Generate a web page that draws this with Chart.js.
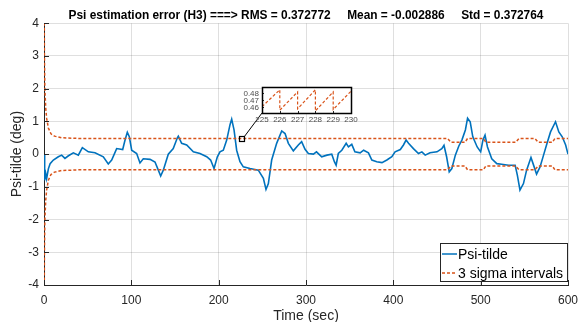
<!DOCTYPE html>
<html>
<head>
<meta charset="utf-8">
<script src="https://cdn.jsdelivr.net/npm/chart.js@4.4.0/dist/chart.umd.min.js"></script>
<style>
  html, body { margin: 0; padding: 0; background: #fff; }
  #wrap { position: relative; width: 579px; height: 322px; }
  #main { position: absolute; left: 0; top: 0; }
  #inset { position: absolute; left: 228px; top: 82px; }
</style>
</head>
<body>
<div id="wrap">
  <canvas id="main" width="579" height="322"></canvas>
  <canvas id="inset" width="130" height="48"></canvas>
</div>
<script>
// data
const timeSec = [0, 0.5, 1, 2, 3, 5, 7, 10.7, 16.4, 20.2,
  24, 28, 33.6, 39.3, 43.9, 50.8, 58.4, 67.9, 73.6, 77.5,
  83.2, 90.1, 92.8, 95.4, 97.7, 100.4, 106.1, 109.9, 113.7, 121.4,
  127.1, 130.9, 133.6, 136.6, 142.3, 148, 152.7, 153.8, 157.6, 163.4,
  171, 178.6, 186.3, 190.8, 194.7, 198.5, 201.5, 205.3, 209.2, 213,
  214.9, 217.6, 220.6, 224.4, 228.2, 235.9, 245.4, 251.2, 254.2, 256.9,
  260.7, 266.4, 272.2, 276, 279.8, 285.5, 291.2, 295, 298.9, 302.7,
  308.5, 312, 318, 324, 329.5, 332.5, 334.5, 337, 341, 346,
  348.6, 352.4, 356, 362, 366, 371.5, 375.4, 381, 387, 392.6,
  398.3, 402, 408, 411.6, 414.6, 417.4, 423, 428.8, 432.7, 436.5,
  442, 450, 455.5, 458, 461, 464, 467, 471, 475, 478.5,
  482.5, 485, 488, 491, 496, 500, 502.6, 505, 507.8, 512.7,
  518.5, 524, 532, 539.5, 542, 545, 549, 552.6, 557.6, 560,
  564, 568, 572, 576, 580, 585.7, 589.5, 593.4, 597.3, 600];
const psiTilde = [0, -0.5, -0.8, -0.6, -0.75, -0.45, -0.29, -0.18, -0.08, -0.03,
  -0.13, -0.05, 0.04, -0.03, 0.2, 0.07, 0.04, -0.08, -0.3, -0.18,
  0.17, 0.14, 0.43, 0.67, 0.53, 0.12, 0.02, -0.27, -0.14, -0.16,
  -0.24, -0.49, -0.67, -0.49, 0, 0.17, 0.5, 0.55, 0.33, 0.28,
  0.07, 0.02, -0.08, -0.18, -0.44, -0.08, 0.07, 0.12, 0.43, 0.9,
  1.07, 0.74, 0.12, -0.23, -0.39, -0.44, -0.49, -0.74, -1.08, -0.9,
  -0.18, 0.33, 0.71, 0.63, 0.33, 0.1, 0.28, 0.38, 0.15, 0.02,
  0, 0.07, -0.08, -0.03, 0, -0.23, -0.34, 0.02, 0.12, 0.33,
  0.22, 0.3, 0.07, 0.04, 0.12, 0.04, -0.18, -0.23, -0.26, -0.18,
  -0.08, 0.07, 0.14, 0.28, 0.43, 0.33, 0.17, 0.02, 0.07, -0.03,
  0.04, 0.07, 0.17, 0.27, -0.08, -0.54, -0.44, -0.03, 0.25, 0.43,
  0.74, 1.1, 0.99, 0.53, 0.22, 0.07, 0.43, 0.58, 0.22, -0.14,
  -0.29, -0.31, -0.34, -0.34, -0.64, -1.1, -0.9, -0.49, -0.1, -0.29,
  -0.61, -0.39, -0.03, 0.33, 0.68, 0.99, 0.68, 0.53, 0.28, 0];

// 3 sigma bound (plotted as +/-)
const sigmaTime = [0, 0.5, 1, 2, 3, 5, 8, 12, 20, 40,
  462, 466, 482, 485, 503, 506, 540, 544, 562, 566,
  582, 585, 600];
const sigma3 = [6, 3, 2, 1.4, 1.1, 0.8, 0.62, 0.55, 0.5, 0.48,
  0.48, 0.36, 0.36, 0.48, 0.48, 0.36, 0.36, 0.48, 0.48, 0.36,
  0.36, 0.48, 0.48];

// zoomed inset (225..230 s)
const insetTime = [225, 226, 226, 227, 227, 228, 228, 229, 229, 230];
const insetSigma = [0.461, 0.485, 0.456, 0.482, 0.458, 0.485, 0.455, 0.482, 0.457, 0.483];
const insetXTicks = [225, 226, 227, 228, 229, 230];
const insetYTicks = [0.46, 0.47, 0.48];
const zoomSpot = { t: 227, v: 0.47 };

const xTicks = [0, 100, 200, 300, 400, 500, 600];
const yTicks = [-4, -3, -2, -1, 0, 1, 2, 3, 4];

const blue = '#0072BD';
const orange = '#D95319';
const axisCol = '#262626';
const gridCol = 'rgba(38,38,38,0.15)';
const fontFam = '"Liberation Sans", Arial, sans-serif';

Chart.defaults.font.family = fontFam;
Chart.defaults.color = axisCol;

const pts = (xs, ys) => xs.map((x, i) => ({ x: x, y: ys[i] }));

// MATLAB style ticks pointing into the axes
function drawInTicks(chart, len) {
  const ctx = chart.ctx, a = chart.chartArea;
  const sx = chart.scales.x, sy = chart.scales.y;
  ctx.save();
  ctx.strokeStyle = axisCol;
  ctx.lineWidth = 1;
  ctx.beginPath();
  sx.ticks.forEach(t => {
    const px = Math.round(sx.getPixelForValue(t.value)) + 0.5;
    ctx.moveTo(px, a.bottom); ctx.lineTo(px, a.bottom - len);
  });
  sy.ticks.forEach(t => {
    const py = Math.round(sy.getPixelForValue(t.value)) + 0.5;
    ctx.moveTo(a.left, py); ctx.lineTo(a.left + len, py);
  });
  ctx.stroke();
  ctx.restore();
}

const insetFrame = {
  id: 'insetFrame',
  beforeDraw(chart) {
    const a = chart.chartArea, ctx = chart.ctx;
    ctx.save();
    ctx.fillStyle = '#fff';
    ctx.fillRect(a.left, a.top, a.right - a.left, a.bottom - a.top);
    ctx.restore();
  },
  afterDraw(chart) {
    const a = chart.chartArea, ctx = chart.ctx;
    drawInTicks(chart, 2);
    ctx.save();
    ctx.strokeStyle = '#000';
    ctx.lineWidth = 1.5;
    ctx.strokeRect(Math.round(a.left) + 0.5, Math.round(a.top) + 0.5,
      Math.round(a.right - a.left), Math.round(a.bottom - a.top));
    ctx.restore();
  }
};

const insetChart = new Chart(document.getElementById('inset'), {
  type: 'line',
  data: {
    datasets: [{
      data: pts(insetTime, insetSigma),
      borderColor: orange,
      borderWidth: 1.2,
      borderDash: [3, 2],
      pointRadius: 0,
      tension: 0
    }]
  },
  options: {
    responsive: false,
    animation: false,
    layout: { padding: { top: 5, right: 7, left: 0, bottom: 0 } },
    plugins: { legend: { display: false }, tooltip: { enabled: false } },
    scales: {
      x: {
        type: 'linear', min: 225, max: 230,
        afterBuildTicks: s => { s.ticks = insetXTicks.map(v => ({ value: v })); },
        afterFit: s => { s.height = 17; s.paddingLeft = 0; s.paddingRight = 0; },
        grid: { display: false, drawTicks: false },
        border: { display: false },
        ticks: { font: { size: 8 }, color: '#4d4d4d', padding: 2, maxRotation: 0, autoSkip: false }
      },
      y: {
        min: 0.452, max: 0.489,
        afterBuildTicks: s => { s.ticks = insetYTicks.map(v => ({ value: v })); },
        afterFit: s => { s.width = 34; s.paddingTop = 0; s.paddingBottom = 0; },
        grid: { display: false, drawTicks: false },
        border: { display: false },
        ticks: { font: { size: 8, lineHeight: 1 }, color: '#4d4d4d', padding: 3, autoSkip: false,
          callback: v => v.toFixed(2) }
      }
    }
  },
  plugins: [insetFrame]
});

const mainExtras = {
  id: 'mainExtras',
  afterDraw(chart) {
    const ctx = chart.ctx, a = chart.chartArea;
    drawInTicks(chart, 5);

    // zoom marker + connector to inset corner
    const mx = chart.scales.x.getPixelForValue(zoomSpot.t);
    const my = chart.scales.y.getPixelForValue(zoomSpot.v);
    const ia = insetChart.chartArea;
    const cv = insetChart.canvas;
    const cx = cv.offsetLeft + ia.left, cy = cv.offsetTop + ia.bottom;
    ctx.save();
    ctx.strokeStyle = '#000';
    ctx.lineWidth = 1;
    ctx.beginPath();
    ctx.moveTo(mx + 2, my - 2);
    ctx.lineTo(cx, cy);
    ctx.stroke();
    ctx.lineWidth = 1.2;
    ctx.strokeRect(Math.round(mx) - 2.5, Math.round(my) - 2.5, 5, 5);

    // boxed legend, lower right
    const w = 128, h = 39;
    const x0 = Math.round(a.right) - w, y0 = Math.round(a.bottom) - 3 - h;
    ctx.fillStyle = '#fff';
    ctx.fillRect(x0, y0, w, h);
    ctx.strokeStyle = axisCol;
    ctx.lineWidth = 1;
    ctx.strokeRect(x0 + 0.5, y0 + 0.5, w - 1, h - 1);
    ctx.font = '14px ' + fontFam;
    ctx.textBaseline = 'middle';
    [0, 1].forEach((di, i) => {
      const ds = chart.data.datasets[di];
      const ly = y0 + 11 + i * 19;
      ctx.strokeStyle = ds.borderColor;
      ctx.lineWidth = 1.5;
      ctx.setLineDash(ds.borderDash || []);
      ctx.beginPath();
      ctx.moveTo(x0 + 2, ly); ctx.lineTo(x0 + 17, ly);
      ctx.stroke();
      ctx.setLineDash([]);
      ctx.fillStyle = '#000';
      ctx.fillText(ds.label, x0 + 18, ly + 1);
    });
    ctx.restore();
  }
};

new Chart(document.getElementById('main'), {
  type: 'line',
  data: {
    datasets: [
      {
        label: 'Psi-tilde',
        data: pts(timeSec, psiTilde),
        borderColor: blue,
        borderWidth: 1.6,
        pointRadius: 0,
        order: 2
      },
      {
        label: '3 sigma intervals',
        data: pts(sigmaTime, sigma3),
        borderColor: orange,
        borderWidth: 1.5,
        borderDash: [3, 2],
        pointRadius: 0,
        order: 1
      },
      {
        label: '3 sigma lower',
        data: pts(sigmaTime, sigma3.map(v => -v)),
        borderColor: orange,
        borderWidth: 1.5,
        borderDash: [3, 2],
        pointRadius: 0,
        order: 1
      }
    ]
  },
  options: {
    responsive: false,
    animation: false,
    layout: { padding: { top: 0, right: 11, left: 0, bottom: 0 } },
    plugins: {
      legend: { display: false },
      tooltip: { enabled: false },
      title: {
        display: true,
        fullSize: false,
        text: 'Psi estimation error (H3) ===> RMS = 0.372772     Mean = -0.002886     Std = 0.372764',
        color: '#000',
        font: { size: 11.9, weight: 'bold' },
        padding: { top: 9, bottom: 0 }
      }
    },
    scales: {
      x: {
        type: 'linear', min: 0, max: 600,
        afterBuildTicks: s => { s.ticks = xTicks.map(v => ({ value: v })); },
        afterFit: s => { s.height = 37; s.paddingLeft = 0; s.paddingRight = 0; },
        grid: { color: gridCol, drawTicks: false },
        border: { color: axisCol, width: 1 },
        ticks: { font: { size: 12 }, color: axisCol, padding: 8, maxRotation: 0 },
        title: { display: true, text: 'Time (sec)', font: { size: 14 }, color: axisCol, padding: { top: 0, bottom: -3 } }
      },
      y: {
        min: -4, max: 4,
        afterBuildTicks: s => { s.ticks = yTicks.map(v => ({ value: v })); },
        afterFit: s => { s.width = 44; },
        grid: { color: gridCol, drawTicks: false },
        border: { color: axisCol, width: 1 },
        ticks: { font: { size: 12 }, color: axisCol, padding: 5 },
        title: { display: true, text: 'Psi-tilde (deg)', font: { size: 14 }, color: axisCol, padding: { top: 9, bottom: 9 } }
      }
    }
  },
  plugins: [mainExtras]
});
</script>
</body>
</html>
